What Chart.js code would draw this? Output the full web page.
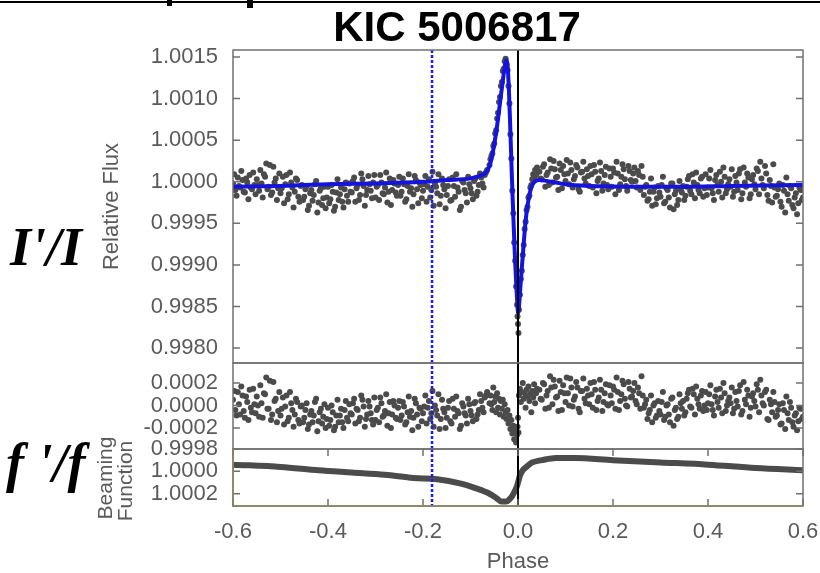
<!DOCTYPE html>
<html>
<head>
<meta charset="utf-8">
<script src="https://cdn.jsdelivr.net/npm/chart.js@4.4.1/dist/chart.umd.min.js"></script>
<style>
  body { margin: 0; background: #fff; }
  #wrap { position: relative; width: 820px; height: 573px; }
  #wrap canvas { position: absolute; left: 0; top: 0; }
</style>
</head>
<body>
<div id="wrap">
  <canvas id="fluxChart" width="820" height="573"></canvas>
  <canvas id="residChart" width="820" height="573"></canvas>
  <canvas id="beamChart" width="820" height="573"></canvas>
</div>
<script>
// tick values
const phaseTicks = [-0.6, -0.4, -0.2, 0.0, 0.2, 0.4, 0.6];
const fluxTicks = [0.9980, 0.9985, 0.9990, 0.9995, 1.0000, 1.0005, 1.0010, 1.0015];
const residTicks = [-0.0002, 0.0000, 0.0002];
const beamTicks = [0.9998, 1.0000, 1.0002];

// vertical markers
const eclipseMark = -0.181;
const phaseZero = 0.0;

// observed points, first pass (phase, relative flux, residual)
const phase = [
  -0.600,-0.595,-0.590,-0.585,-0.580,-0.575,-0.570,-0.565,-0.560,-0.555,
  -0.550,-0.545,-0.540,-0.535,-0.530,-0.525,-0.520,-0.515,-0.510,-0.505,
  -0.500,-0.495,-0.490,-0.485,-0.480,-0.475,-0.470,-0.465,-0.460,-0.455,
  -0.450,-0.445,-0.440,-0.435,-0.430,-0.425,-0.420,-0.415,-0.410,-0.405,
  -0.400,-0.395,-0.390,-0.385,-0.380,-0.375,-0.370,-0.365,-0.360,-0.355,
  -0.350,-0.345,-0.340,-0.335,-0.330,-0.325,-0.320,-0.315,-0.310,-0.305,
  -0.300,-0.295,-0.290,-0.285,-0.280,-0.275,-0.270,-0.265,-0.260,-0.255,
  -0.250,-0.245,-0.240,-0.235,-0.230,-0.225,-0.220,-0.215,-0.210,-0.205,
  -0.200,-0.195,-0.190,-0.185,-0.180,-0.175,-0.170,-0.165,-0.160,-0.155,
  -0.150,-0.145,-0.140,-0.135,-0.130,-0.125,-0.120,-0.115,-0.110,-0.105,
  -0.100,-0.095,-0.090,-0.085,-0.080,-0.075,-0.070,-0.065,
  -0.060,-0.058,-0.056,-0.054,-0.052,-0.050,-0.048,-0.046,-0.044,-0.042,
  -0.040,-0.038,-0.036,-0.034,-0.032,-0.030,-0.028,-0.026,-0.024,-0.022,
  -0.020,-0.018,-0.016,-0.014,-0.012,-0.010,-0.008,-0.006,-0.004,-0.002,
  -0.001,0.000,0.001,
  0.002,0.004,0.006,0.008,0.010,0.012,0.014,0.016,0.018,0.020,
  0.022,0.024,0.026,0.028,0.030,0.032,0.034,0.036,0.038,0.040,
  0.045,0.050,0.055,0.060,0.065,0.070,0.075,0.080,0.085,0.090,
  0.095,0.100,0.105,0.110,0.115,0.120,0.125,0.130,0.135,0.140,
  0.145,0.150,0.155,0.160,0.165,0.170,0.175,0.180,0.185,0.190,
  0.195,0.200,0.205,0.210,0.215,0.220,0.225,0.230,0.235,0.240,
  0.245,0.250,0.255,0.260,0.265,0.270,0.275,0.280,0.285,0.290,
  0.295,0.300,0.305,0.310,0.315,0.320,0.325,0.330,0.335,0.340,
  0.345,0.350,0.355,0.360,0.365,0.370,0.375,0.380,0.385,0.390,
  0.395,0.400,0.405,0.410,0.415,0.420,0.425,0.430,0.435,0.440,
  0.445,0.450,0.455,0.460,0.465,0.470,0.475,0.480,0.485,0.490,
  0.495,0.500,0.505,0.510,0.515,0.520,0.525,0.530,0.535,0.540,
  0.545,0.550,0.555,0.560,0.565,0.570,0.575,0.580,0.585,0.590,
  0.595,0.600
];

const flux = [
  0.99998,0.99990,1.00005,0.99993,1.00002,0.99987,0.99999,1.00008,0.99991,0.99996,
  1.00003,0.99989,0.99998,1.00009,1.00022,0.99994,0.99984,1.00018,1.00004,0.99992,
  0.99986,1.00006,0.99997,0.99979,1.00011,0.99993,0.99988,1.00002,0.99976,0.99996,
  0.99982,0.99995,0.99971,0.99990,0.99984,1.00001,0.99975,0.99992,0.99980,0.99968,
  0.99994,0.99979,0.99988,0.99970,1.00003,0.99985,0.99976,0.99991,0.99983,0.99998,
  0.99987,1.00005,0.99992,0.99978,1.00010,0.99995,0.99984,1.00007,0.99989,0.99999,
  0.99981,0.99996,1.00008,0.99986,0.99993,0.99975,1.00004,0.99990,0.99998,0.99983,
  1.00006,0.99988,0.99997,0.99979,1.00009,0.99992,0.99985,1.00002,0.99974,0.99996,
  0.99989,1.00007,0.99994,0.99981,1.00012,0.99998,0.99986,0.99973,1.00004,0.99991,
  0.99984,1.00003,0.99978,0.99995,1.00009,0.99988,0.99970,0.99999,0.99986,1.00006,
  0.99992,0.99979,1.00004,0.99988,1.00010,0.99998,1.00008,1.00014,
  1.00020,1.00027,1.00031,1.00034,1.00043,1.00046,1.00058,1.00062,1.00076,1.00083,
  1.00096,1.00102,1.00115,1.00120,1.00133,1.00136,1.00145,1.00148,1.00141,1.00134,
  1.00115,1.00094,1.00057,1.00028,0.99989,0.99962,0.99927,0.99905,0.99874,0.99852,
  0.99838,0.99829,0.99818,
  0.99846,0.99864,0.99883,0.99893,0.99912,0.99924,0.99943,0.99952,0.99966,0.99970,
  0.99981,0.99983,0.99993,0.99996,1.00003,1.00009,1.00005,1.00014,1.00008,1.00017,
  1.00012,1.00003,1.00021,1.00008,0.99996,1.00016,1.00025,1.00005,0.99990,1.00014,
  1.00019,1.00001,1.00010,1.00023,0.99993,1.00007,1.00017,0.99988,1.00012,1.00004,
  1.00015,0.99995,1.00009,1.00020,0.99986,1.00004,1.00013,0.99998,1.00018,0.99991,
  1.00006,1.00016,0.99985,1.00010,0.99997,1.00021,1.00003,0.99989,1.00013,1.00000,
  1.00017,0.99993,1.00008,1.00019,0.99984,0.99996,0.99979,1.00004,0.99988,0.99973,
  0.99995,0.99982,1.00006,0.99976,0.99990,0.99969,0.99998,0.99985,0.99972,1.00001,
  0.99987,0.99978,0.99994,1.00007,0.99985,0.99999,1.00011,0.99990,1.00004,0.99982,
  1.00009,0.99993,1.00014,0.99986,1.00002,0.99996,1.00012,0.99981,1.00006,0.99991,
  1.00003,1.00015,0.99988,0.99999,1.00010,0.99979,1.00017,0.99994,1.00005,0.99985,
  1.00008,0.99991,1.00013,1.00024,0.99996,1.00019,0.99984,1.00002,0.99975,0.99993,
  0.99983,0.99998,0.99970,0.99989,1.00005,0.99977,0.99992,0.99968,0.99986,0.99974,
  0.99990,0.99981
];

const resid = [
  0.00005,-0.00004,0.00012,-0.00008,0.00009,-0.00011,0.00003,0.00014,-0.00006,0.00001,
  0.00008,-0.00010,0.00002,0.00011,0.00025,-0.00003,-0.00013,0.00021,0.00006,-0.00005,
  -0.00009,0.00007,-0.00001,-0.00014,0.00012,-0.00004,-0.00008,0.00003,-0.00016,0.00000,
  -0.00011,0.00002,-0.00017,-0.00005,-0.00009,0.00006,-0.00014,-0.00003,-0.00010,-0.00020,
  -0.00002,-0.00013,-0.00006,-0.00019,0.00005,-0.00009,-0.00015,-0.00004,-0.00011,0.00001,
  -0.00008,0.00006,-0.00003,-0.00014,0.00009,-0.00001,-0.00012,0.00004,-0.00007,-0.00017,
  -0.00013,-0.00002,0.00007,-0.00010,-0.00005,-0.00018,0.00003,-0.00008,0.00000,-0.00012,
  0.00004,-0.00009,-0.00001,-0.00015,0.00008,-0.00005,-0.00011,0.00002,-0.00019,-0.00003,
  -0.00007,0.00009,-0.00002,-0.00012,0.00013,0.00000,-0.00009,-0.00021,0.00005,-0.00006,
  -0.00011,0.00004,-0.00016,-0.00003,0.00008,-0.00007,-0.00018,-0.00001,-0.00009,0.00006,
  -0.00005,-0.00014,0.00003,-0.00008,0.00010,-0.00002,0.00007,0.00012,
  0.00002,0.00009,0.00001,-0.00004,0.00016,0.00003,0.00008,-0.00006,0.00011,-0.00002,
  0.00006,-0.00008,0.00004,-0.00003,0.00005,-0.00010,0.00001,-0.00006,-0.00012,-0.00004,
  -0.00016,-0.00009,-0.00021,-0.00013,-0.00025,-0.00018,-0.00030,-0.00022,-0.00033,-0.00026,
  -0.00019,-0.00011,-0.00024,
  0.00009,0.00015,0.00003,0.00012,0.00020,0.00006,0.00011,-0.00002,0.00014,0.00008,
  0.00017,0.00004,0.00010,-0.00006,0.00013,0.00007,0.00019,0.00002,0.00011,0.00015,
  0.00014,0.00005,0.00019,0.00009,-0.00002,0.00016,0.00023,0.00007,-0.00005,0.00012,
  0.00018,0.00003,0.00011,0.00024,-0.00001,0.00008,0.00016,-0.00006,0.00013,0.00006,
  0.00015,0.00001,0.00010,0.00021,-0.00004,0.00007,0.00014,0.00003,0.00019,0.00000,
  0.00009,0.00017,-0.00003,0.00012,0.00004,0.00022,0.00006,-0.00001,0.00015,0.00008,
  0.00020,0.00001,0.00011,0.00026,-0.00002,0.00005,-0.00007,0.00009,0.00000,-0.00011,
  0.00004,-0.00008,0.00012,-0.00010,0.00001,-0.00015,0.00007,-0.00004,-0.00012,0.00010,
  -0.00003,-0.00009,0.00006,0.00014,-0.00002,0.00010,0.00017,0.00001,0.00009,-0.00005,
  0.00012,0.00002,0.00018,-0.00004,0.00008,0.00003,0.00015,-0.00007,0.00011,0.00000,
  0.00007,0.00016,-0.00003,0.00004,0.00013,-0.00008,0.00021,0.00001,0.00009,-0.00002,
  0.00011,-0.00001,0.00014,0.00023,0.00002,0.00012,-0.00012,0.00005,-0.00006,0.00003,
  -0.00009,0.00001,-0.00016,-0.00004,0.00008,-0.00013,-0.00002,-0.00019,-0.00007,-0.00014,
  -0.00003,-0.00010
];

// observed points, second pass (out of eclipse)
const phase2 = [
  -0.5975,-0.5925,-0.5875,-0.5825,-0.5775,-0.5725,-0.5675,-0.5625,-0.5575,-0.5525,
  -0.5475,-0.5425,-0.5375,-0.5325,-0.5275,-0.5225,-0.5175,-0.5125,-0.5075,-0.5025,
  -0.4975,-0.4925,-0.4875,-0.4825,-0.4775,-0.4725,-0.4675,-0.4625,-0.4575,-0.4525,
  -0.4475,-0.4425,-0.4375,-0.4325,-0.4275,-0.4225,-0.4175,-0.4125,-0.4075,-0.4025,
  -0.3975,-0.3925,-0.3875,-0.3825,-0.3775,-0.3725,-0.3675,-0.3625,-0.3575,-0.3525,
  -0.3475,-0.3425,-0.3375,-0.3325,-0.3275,-0.3225,-0.3175,-0.3125,-0.3075,-0.3025,
  -0.2975,-0.2925,-0.2875,-0.2825,-0.2775,-0.2725,-0.2675,-0.2625,-0.2575,-0.2525,
  -0.2475,-0.2425,-0.2375,-0.2325,-0.2275,-0.2225,-0.2175,-0.2125,-0.2075,-0.2025,
  -0.1975,-0.1925,-0.1875,-0.1825,-0.1775,-0.1725,-0.1675,-0.1625,-0.1575,-0.1525,
  -0.1475,-0.1425,-0.1375,-0.1325,-0.1275,-0.1225,-0.1175,-0.1125,-0.1075,-0.1025,
  -0.0975,-0.0925,-0.0875,-0.0825,-0.0775,-0.0725,-0.0675,
  0.0475,0.0525,0.0575,0.0625,0.0675,0.0725,0.0775,0.0825,0.0875,0.0925,
  0.0975,0.1025,0.1075,0.1125,0.1175,0.1225,0.1275,0.1325,0.1375,0.1425,
  0.1475,0.1525,0.1575,0.1625,0.1675,0.1725,0.1775,0.1825,0.1875,0.1925,
  0.1975,0.2025,0.2075,0.2125,0.2175,0.2225,0.2275,0.2325,0.2375,0.2425,
  0.2475,0.2525,0.2575,0.2625,0.2675,0.2725,0.2775,0.2825,0.2875,0.2925,
  0.2975,0.3025,0.3075,0.3125,0.3175,0.3225,0.3275,0.3325,0.3375,0.3425,
  0.3475,0.3525,0.3575,0.3625,0.3675,0.3725,0.3775,0.3825,0.3875,0.3925,
  0.3975,0.4025,0.4075,0.4125,0.4175,0.4225,0.4275,0.4325,0.4375,0.4425,
  0.4475,0.4525,0.4575,0.4625,0.4675,0.4725,0.4775,0.4825,0.4875,0.4925,
  0.4975,0.5025,0.5075,0.5125,0.5175,0.5225,0.5275,0.5325,0.5375,0.5425,
  0.5475,0.5525,0.5575,0.5625,0.5675,0.5725,0.5775,0.5825,0.5875,0.5925,
  0.5975
];

const flux2 = [
  1.00009,0.99983,0.99995,1.00013,0.99988,1.00004,0.99979,0.99993,1.00011,0.99985,
  0.99996,1.00014,0.99981,1.00006,0.99991,1.00020,0.99987,0.99999,0.99978,1.00010,
  0.99992,0.99974,1.00008,0.99985,0.99999,0.99969,1.00004,0.99982,0.99995,0.99978,
  0.99991,0.99966,0.99986,0.99977,0.99997,0.99963,0.99989,0.99972,0.99994,0.99981,
  0.99974,0.99996,0.99965,0.99987,0.99978,0.99993,0.99969,0.99999,0.99976,0.99988,
  1.00001,0.99976,0.99996,0.99984,1.00003,0.99971,0.99990,0.99997,0.99980,1.00008,
  0.99994,0.99978,0.99999,0.99985,1.00011,0.99988,0.99972,1.00002,0.99987,0.99996,
  0.99983,1.00004,0.99976,0.99995,0.99988,0.99970,1.00007,0.99991,0.99999,0.99980,
  0.99997,0.99976,1.00003,0.99990,0.99971,0.99994,1.00009,0.99983,0.99996,0.99968,
  0.99995,0.99977,1.00005,0.99982,0.99993,0.99966,1.00001,0.99990,0.99975,0.99997,
  0.99986,1.00001,0.99983,0.99996,1.00005,0.99993,1.00011,
  1.00004,1.00018,0.99994,1.00011,1.00027,0.99999,1.00015,1.00006,1.00022,0.99992,
  1.00009,1.00026,0.99997,1.00014,1.00003,1.00020,0.99991,1.00011,1.00024,0.99998,
  1.00007,1.00019,0.99993,1.00012,1.00001,1.00023,0.99989,1.00008,0.99996,1.00016,
  0.99994,1.00011,1.00024,0.99990,1.00006,1.00015,0.99995,1.00019,1.00002,1.00010,
  1.00001,1.00013,0.99990,1.00006,0.99994,0.99977,0.99988,0.99971,0.99993,0.99980,
  0.99987,0.99996,0.99974,0.99992,0.99981,0.99998,0.99967,0.99989,0.99978,0.99991,
  0.99995,0.99983,1.00003,0.99989,1.00009,0.99980,0.99996,0.99986,1.00006,0.99992,
  0.99984,1.00004,0.99992,0.99978,1.00008,0.99988,1.00000,1.00017,0.99986,0.99997,
  0.99994,0.99982,1.00007,0.99990,1.00015,0.99986,0.99999,1.00010,0.99980,1.00003,
  0.99997,1.00016,0.99985,1.00004,0.99992,1.00010,0.99977,0.99995,1.00021,0.99982,
  0.99991,0.99976,0.99996,0.99963,0.99985,0.99995,0.99972,0.99981,0.99961,0.99993,
  0.99978
];

const resid2 = [
  0.00013,-0.00009,0.00001,0.00017,-0.00005,0.00008,-0.00013,-0.00002,0.00015,-0.00007,
  0.00000,0.00018,-0.00011,0.00010,-0.00003,0.00022,-0.00008,0.00004,-0.00015,0.00012,
  -0.00003,-0.00017,0.00009,-0.00011,0.00002,-0.00019,0.00006,-0.00013,-0.00001,-0.00015,
  -0.00004,-0.00021,-0.00008,-0.00015,0.00003,-0.00023,-0.00006,-0.00016,0.00001,-0.00012,
  -0.00018,0.00000,-0.00022,-0.00009,-0.00015,-0.00003,-0.00020,0.00004,-0.00014,-0.00007,
  0.00002,-0.00016,-0.00004,-0.00011,0.00005,-0.00019,-0.00008,-0.00001,-0.00013,0.00007,
  -0.00004,-0.00015,0.00002,-0.00009,0.00010,-0.00007,-0.00020,0.00004,-0.00011,-0.00002,
  -0.00013,0.00003,-0.00017,-0.00006,-0.00010,-0.00022,0.00006,-0.00008,-0.00002,-0.00014,
  -0.00001,-0.00016,0.00004,-0.00007,-0.00019,-0.00004,0.00010,-0.00012,-0.00003,-0.00020,
  -0.00002,-0.00014,0.00006,-0.00010,-0.00005,-0.00021,0.00002,-0.00007,-0.00016,0.00001,
  -0.00009,0.00002,-0.00012,-0.00004,0.00004,-0.00006,0.00009,
  0.00006,0.00020,-0.00003,0.00013,0.00026,0.00001,0.00017,0.00008,0.00022,-0.00004,
  0.00011,0.00025,0.00000,0.00016,0.00005,0.00021,-0.00003,0.00013,0.00024,0.00002,
  0.00009,0.00020,-0.00002,0.00014,0.00004,0.00023,-0.00005,0.00011,0.00001,0.00018,
  0.00002,0.00014,0.00025,-0.00004,0.00010,0.00019,0.00000,0.00021,0.00007,0.00013,
  0.00004,0.00016,-0.00003,0.00009,0.00001,-0.00012,-0.00004,-0.00015,0.00002,-0.00009,
  -0.00005,0.00003,-0.00013,0.00000,-0.00008,0.00006,-0.00018,-0.00002,-0.00010,0.00002,
  0.00004,-0.00006,0.00011,-0.00001,0.00015,-0.00008,0.00006,-0.00003,0.00013,0.00000,
  -0.00004,0.00010,0.00001,-0.00009,0.00014,-0.00002,0.00007,0.00020,-0.00005,0.00004,
  0.00002,-0.00007,0.00012,-0.00001,0.00018,-0.00005,0.00005,0.00014,-0.00010,0.00008,
  0.00004,0.00019,-0.00006,0.00009,0.00000,0.00014,-0.00013,0.00001,0.00012,-0.00010,
  -0.00004,-0.00017,0.00002,-0.00021,-0.00007,0.00003,-0.00015,-0.00009,-0.00022,-0.00002,
  -0.00012
];

// model light curve (blue)
const modelPhase = [
  -0.600,-0.500,-0.400,-0.300,-0.200,-0.150,-0.100,-0.080,-0.070,-0.065,
  -0.060,-0.055,-0.050,-0.045,-0.040,-0.035,-0.030,-0.027,-0.025,-0.023,
  -0.021,-0.019,-0.017,-0.015,-0.013,-0.011,-0.009,-0.007,-0.005,-0.003,
  -0.001,0.000,0.002,0.005,0.008,0.011,0.014,0.018,0.022,0.026,
  0.030,0.035,0.045,0.060,0.080,0.100,0.150,0.250,0.350,0.450,0.600
];
const modelFlux = [
  0.99994,0.99995,0.99997,0.99998,1.00000,1.00002,1.00004,1.00007,1.00010,1.00013,
  1.00019,1.00030,1.00045,1.00063,1.00085,1.00108,1.00130,1.00142,1.00146,1.00144,
  1.00132,1.00108,1.00077,1.00043,1.00008,0.99976,0.99946,0.99917,0.99892,0.99869,
  0.99849,0.99842,0.99850,0.99873,0.99896,0.99918,0.99940,0.99963,0.99978,0.99989,
  0.99996,1.00000,1.00002,1.00001,0.99999,0.99997,0.99995,0.99994,0.99994,0.99995,0.99996
];

// beaming function
const beamPhase = [
  -0.600,-0.500,-0.420,-0.350,-0.280,-0.220,-0.170,-0.120,-0.090,-0.060,
  -0.045,-0.035,-0.025,-0.018,-0.012,-0.006,-0.002,0.000,0.004,0.010,
  0.018,0.030,0.050,0.080,0.120,0.200,0.300,0.400,0.500,0.600
];
const beamValue = [
  0.99994,0.99996,0.99999,1.00001,1.00003,1.00006,1.00007,1.00011,1.00015,1.00020,
  1.00024,1.00027,1.00027,1.00025,1.00022,1.00017,1.00013,1.00010,1.00004,0.99999,
  0.99996,0.99992,0.99990,0.99988,0.99988,0.99990,0.99992,0.99994,0.99997,0.99999
];

const grayText = '#5a5a5a';
const dotColor = '#4b4b4b';

function pairs(xs, ys) {
  return xs.map((x, i) => ({ x: x, y: ys[i] }));
}

function markLines(lo, hi) {
  return [
    { data: [{ x: phaseZero, y: lo }, { x: phaseZero, y: hi }],
      borderColor: '#000000', borderWidth: 2, pointRadius: 0 },
    { data: [{ x: eclipseMark, y: lo }, { x: eclipseMark, y: hi }],
      borderColor: '#1a1aff', borderWidth: 2.5, borderDash: [3, 2], pointRadius: 0 }
  ];
}

function dots(xs, ys) {
  return { data: pairs(xs, ys), showLine: false, pointRadius: 3,
           pointBackgroundColor: dotColor, pointBorderWidth: 0 };
}

function useTicks(list) {
  return function (scale) {
    scale.ticks = list.map(v => ({ value: v }));
  };
}

// frame with inward ticks
const framePlugin = {
  id: 'frame',
  afterDatasetsDraw(chart, args, opts) {
    const a = chart.chartArea;
    const ctx = chart.ctx;
    const ys = chart.scales.y;
    const xs = chart.scales.x;
    ctx.save();
    ctx.lineWidth = 1.5;
    ctx.strokeStyle = '#707070';
    ctx.strokeRect(a.left, a.top, a.right - a.left, a.bottom - a.top);
    ys.ticks.forEach(t => {
      const py = ys.getPixelForValue(t.value);
      ctx.beginPath();
      ctx.moveTo(a.left, py); ctx.lineTo(a.left + 7, py);
      ctx.moveTo(a.right, py); ctx.lineTo(a.right - 7, py);
      ctx.stroke();
    });
    if (opts.xTicks) {
      phaseTicks.forEach(v => {
        const px = xs.getPixelForValue(v);
        ctx.beginPath();
        ctx.moveTo(px, a.bottom); ctx.lineTo(px, a.bottom - 7);
        ctx.moveTo(px, a.top); ctx.lineTo(px, a.top + 7);
        ctx.stroke();
      });
    }
    if (opts.baseColor) {
      ctx.strokeStyle = opts.baseColor;
      ctx.beginPath();
      ctx.moveTo(a.left, a.top); ctx.lineTo(a.left, a.bottom); ctx.lineTo(a.right, a.bottom);
      ctx.stroke();
    }
    ctx.restore();
  }
};

// free text round the panels
const textPlugin = {
  id: 'texts',
  afterDraw(chart, args, opts) {
    const ctx = chart.ctx;
    ctx.save();
    (opts.items || []).forEach(it => {
      ctx.font = it.font;
      ctx.fillStyle = it.color || '#000';
      ctx.textAlign = it.align || 'left';
      ctx.textBaseline = it.baseline || 'alphabetic';
      if (it.rotate) {
        ctx.save();
        ctx.translate(it.x, it.y);
        ctx.rotate(-Math.PI / 2);
        ctx.fillText(it.text, 0, 0);
        ctx.restore();
      } else {
        ctx.fillText(it.text, it.x, it.y);
      }
    });
    (opts.rects || []).forEach(r => {
      ctx.fillStyle = '#000';
      ctx.fillRect(r[0], r[1], r[2], r[3]);
    });
    ctx.restore();
  }
};

Chart.defaults.font.family = '"Liberation Sans", Arial, sans-serif';

function xScale(show) {
  const s = {
    type: 'linear', min: -0.6, max: 0.6, display: show,
    afterBuildTicks: useTicks(phaseTicks),
    grid: { display: false, drawTicks: false },
    border: { display: false },
    ticks: { color: grayText, font: { size: 22 }, padding: 13, maxRotation: 0,
             autoSkip: false, callback: v => v.toFixed(1) },
    title: { display: true, text: 'Phase', color: grayText,
             font: { size: 22, lineHeight: 1 }, padding: 0 }
  };
  if (show) {
    s.afterFit = sc => {
      sc.height = 67;
      sc.paddingLeft = 0;
      sc.paddingRight = 0;
    };
  }
  return s;
}

function yScale(lo, hi, list, extra) {
  return Object.assign({
    type: 'linear', min: lo, max: hi,
    afterBuildTicks: useTicks(list),
    afterFit: s => { s.width = 233; },
    grid: { display: false, drawTicks: false },
    border: { display: false },
    ticks: { color: grayText, font: { size: 22 }, padding: 15, autoSkip: false,
             callback: v => v.toFixed(4) }
  }, extra || {});
}

function baseOptions(pad) {
  return {
    responsive: false,
    animation: false,
    devicePixelRatio: 1,
    layout: { padding: pad },
    plugins: { legend: { display: false }, tooltip: { enabled: false } }
  };
}

// top panel: relative flux
const fluxLo = 0.99782, fluxHi = 1.001584;
const fluxOpts = baseOptions({ top: 50, bottom: 210, left: 0, right: 17 });
fluxOpts.scales = {
  x: xScale(false),
  y: yScale(fluxLo, fluxHi, fluxTicks, {
    title: { display: true, text: 'Relative Flux', color: grayText,
             font: { size: 22, lineHeight: 1 }, padding: { top: 101, bottom: 0 } }
  })
};
fluxOpts.plugins.frame = {};
fluxOpts.plugins.texts = {
  items: [
    { text: 'KIC 5006817', x: 457, y: 41, align: 'center',
      font: 'bold 42px "Liberation Sans", Arial, sans-serif' },
    { text: "I'/I", x: 10, y: 265,
      font: 'bold italic 54px "Liberation Serif", "Times New Roman", serif' }
  ],
  rects: [[0, 1, 820, 2], [167, 0, 5, 6], [247, 0, 6, 8]]
};

new Chart(document.getElementById('fluxChart'), {
  type: 'line',
  data: {
    datasets: markLines(fluxLo, fluxHi).concat([
      { data: pairs(modelPhase, modelFlux), borderColor: '#1414dc', borderWidth: 4,
        pointRadius: 0, cubicInterpolationMode: 'monotone' },
      dots(phase, flux),
      dots(phase2, flux2)
    ])
  },
  options: fluxOpts,
  plugins: [framePlugin, textPlugin]
});

// middle panel: residuals
const residLo = -0.000387, residHi = 0.000378;
const residOpts = baseOptions({ top: 363, bottom: 124, left: 0, right: 17 });
residOpts.scales = { x: xScale(false), y: yScale(residLo, residHi, residTicks) };
residOpts.plugins.frame = {};

new Chart(document.getElementById('residChart'), {
  type: 'line',
  data: {
    datasets: markLines(residLo, residHi).concat([
      dots(phase, resid),
      dots(phase2, resid2)
    ])
  },
  options: residOpts,
  plugins: [framePlugin]
});

// bottom panel: beaming function
const beamLo = 0.99980, beamHi = 1.00031;
const beamOpts = baseOptions({ top: 449, bottom: 0, left: 0, right: 17 });
beamOpts.scales = { x: xScale(true), y: yScale(beamLo, beamHi, beamTicks, { reverse: true }) };
beamOpts.plugins.frame = { xTicks: true, baseColor: '#8c865c' };
beamOpts.plugins.texts = {
  items: [
    { text: "f '/f", x: 6, y: 481,
      font: 'bold italic 54px "Liberation Serif", "Times New Roman", serif' },
    { text: 'Beaming', x: 106, y: 478, rotate: true, align: 'center', baseline: 'middle',
      color: grayText, font: '21px "Liberation Sans", Arial, sans-serif' },
    { text: 'Function', x: 126, y: 481, rotate: true, align: 'center', baseline: 'middle',
      color: grayText, font: '21px "Liberation Sans", Arial, sans-serif' }
  ]
};

new Chart(document.getElementById('beamChart'), {
  type: 'line',
  data: {
    datasets: markLines(beamLo, beamHi).concat([
      { data: pairs(beamPhase, beamValue), borderColor: '#4b4b4b', borderWidth: 6,
        pointRadius: 0, cubicInterpolationMode: 'monotone' }
    ])
  },
  options: beamOpts,
  plugins: [framePlugin, textPlugin]
});
</script>
</body>
</html>
